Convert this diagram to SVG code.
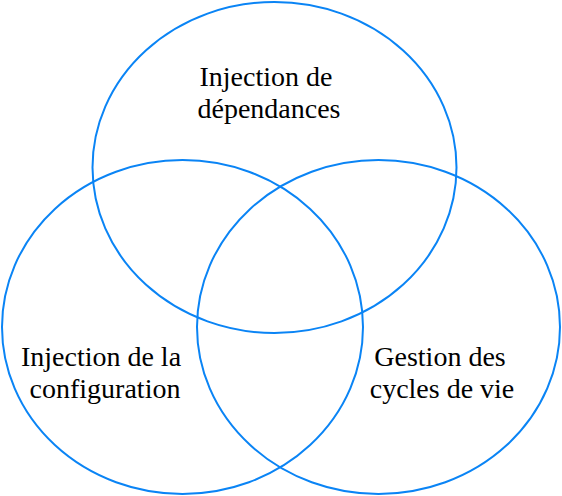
<svg xmlns="http://www.w3.org/2000/svg" width="562" height="496" viewBox="0 0 562 496">
<style>
.c{fill:none;stroke:#0a84f5;stroke-width:2}
.t{font-family:"Liberation Serif","Times New Roman",serif;font-size:28px;fill:#000;text-anchor:middle}
</style>
<rect width="562" height="496" fill="#fff"/>
<g id="connectors"></g>
<g id="top">
<ellipse class="c" cx="274.5" cy="167.5" rx="182" ry="165.5"/>
<text class="t" x="266" y="86">Injection de</text>
<text class="t" x="269" y="118">dépendances</text>
</g>
<g id="left">
<ellipse class="c" cx="182.5" cy="327" rx="180.5" ry="167"/>
<text class="t" x="101" y="366">Injection de la</text>
<text class="t" x="105" y="398">configuration</text>
</g>
<g id="right">
<ellipse class="c" cx="378.5" cy="327" rx="181.5" ry="167"/>
<text class="t" x="440" y="366">Gestion des</text>
<text class="t" x="442" y="398">cycles de vie</text>
</g>
</svg>
